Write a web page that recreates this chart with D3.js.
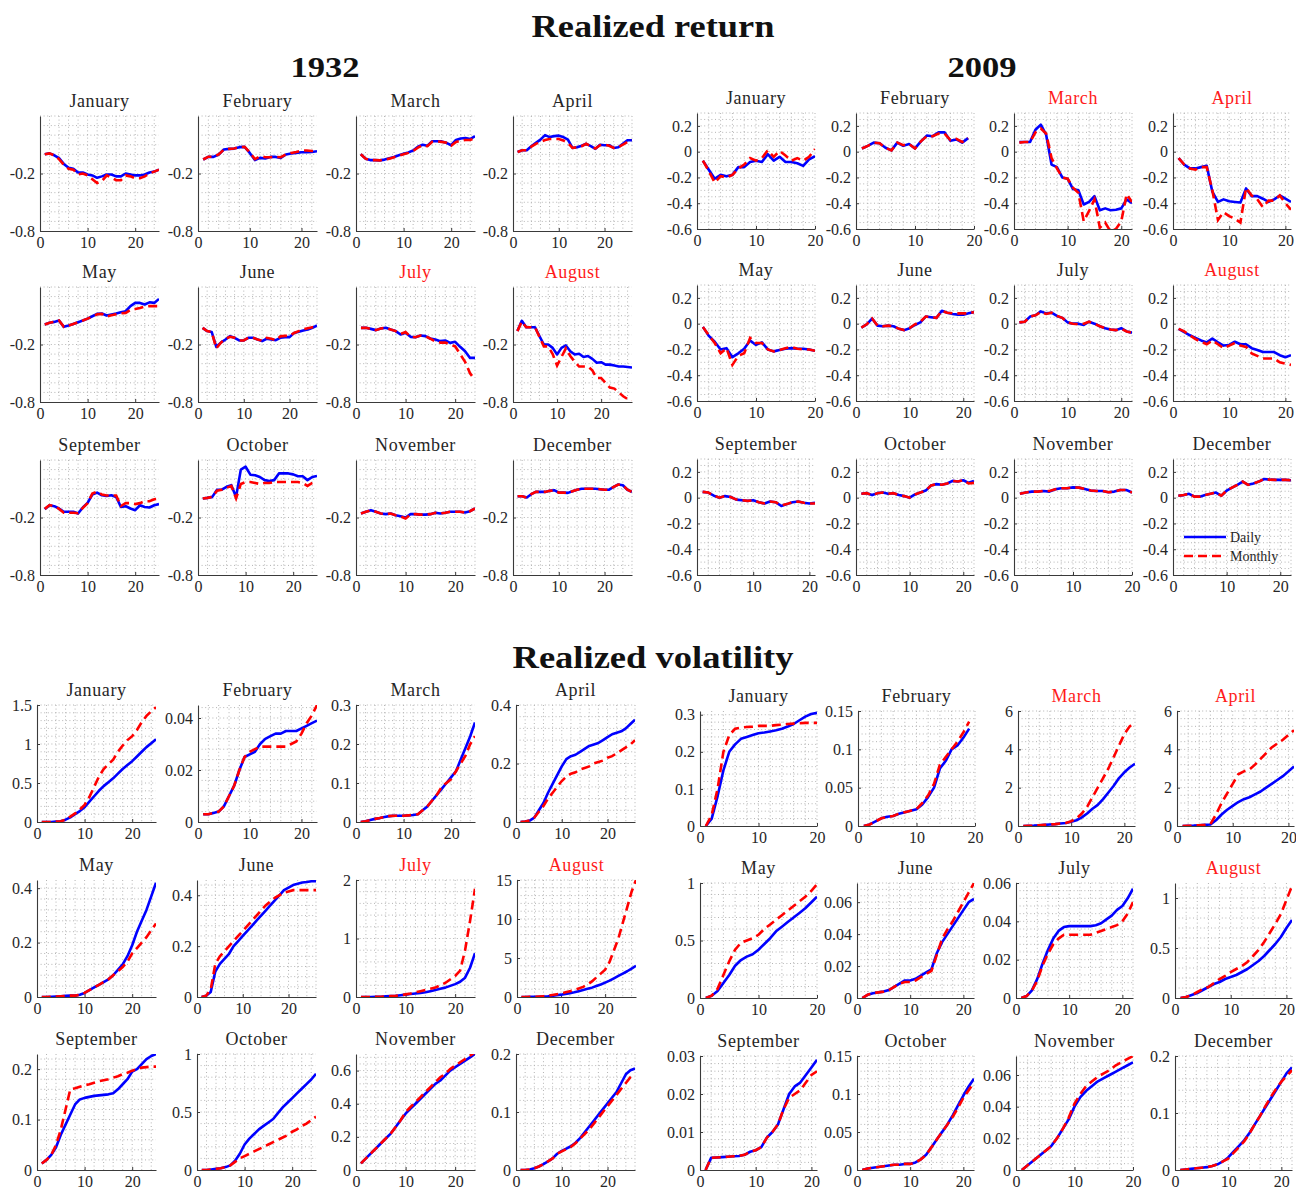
<!DOCTYPE html>
<html>
<head>
<meta charset="utf-8">
<script src="https://cdn.jsdelivr.net/npm/d3@7"></script>
<style>
  html, body { margin: 0; padding: 0; background: #fff; }
  svg text { font-family: "Liberation Serif", "Times New Roman", serif; fill: #262626; }
</style>
</head>
<body>
<script>
// ---------- data ----------
const months = ["January","February","March","April","May","June","July","August","September","October","November","December"];
const highlight1932 = ["July","August"];
const highlight2009 = ["March","April","August"];

// x-axis length (trading days) per month
const xMax1932 = [25, 23, 25, 26, 25, 26, 24, 27, 25, 25, 24, 26];
const xMax2009 = [20, 20, 22, 21, 20, 22, 22, 21, 21, 22, 20, 22];

// Realized return, 1932
const ret1932Daily = [
  [0.0,0.01,-0.01,-0.04,-0.10,-0.14,-0.15,-0.19,-0.19,-0.21,-0.22,-0.245,-0.23,-0.21,-0.21,-0.23,-0.23,-0.20,-0.21,-0.22,-0.22,-0.21,-0.19,-0.18,-0.16],
  [-0.054,-0.027,-0.027,-0.002,0.05,0.057,0.06,0.075,0.078,0.015,-0.06,-0.037,-0.044,-0.027,-0.027,-0.037,-0.002,0.008,0.015,0.022,0.022,0.025,0.032],
  [0.0,-0.045,-0.06,-0.06,-0.063,-0.055,-0.04,-0.027,-0.01,0.005,0.02,0.04,0.08,0.1,0.09,0.137,0.137,0.135,0.12,0.095,0.15,0.165,0.17,0.16,0.19],
  [0.025,0.043,0.043,0.085,0.12,0.154,0.2,0.18,0.19,0.195,0.18,0.154,0.067,0.074,0.09,0.11,0.085,0.057,0.1,0.095,0.095,0.067,0.074,0.11,0.147,0.147],
  [0.008,0.026,0.036,0.05,-0.016,-0.002,0.015,0.033,0.05,0.07,0.095,0.12,0.123,0.102,0.112,0.123,0.137,0.147,0.2,0.234,0.234,0.217,0.24,0.234,0.276],
  [-0.026,-0.06,-0.07,-0.224,-0.18,-0.148,-0.113,-0.13,-0.158,-0.158,-0.13,-0.13,-0.148,-0.165,-0.14,-0.148,-0.155,-0.13,-0.123,-0.123,-0.08,-0.068,-0.054,-0.044,-0.026,-0.002],
  [-0.026,-0.026,-0.037,-0.05,-0.033,-0.026,-0.044,-0.06,-0.096,-0.078,-0.12,-0.124,-0.106,-0.113,-0.137,-0.148,-0.165,-0.158,-0.183,-0.172,-0.224,-0.27,-0.34,-0.34],
  [-0.06,0.047,-0.02,-0.02,-0.02,-0.113,-0.2,-0.2,-0.235,-0.304,-0.235,-0.21,-0.27,-0.304,-0.297,-0.33,-0.32,-0.35,-0.39,-0.385,-0.41,-0.41,-0.42,-0.43,-0.43,-0.435,-0.44],
  [-0.113,-0.072,-0.082,-0.106,-0.14,-0.14,-0.14,-0.158,-0.096,-0.047,0.04,0.06,0.032,0.025,0.032,0.015,-0.09,-0.082,-0.106,-0.124,-0.072,-0.09,-0.096,-0.072,-0.06],
  [-0.002,0.005,0.015,0.09,0.09,0.12,0.137,0.015,0.3,0.33,0.247,0.24,0.223,0.19,0.18,0.19,0.26,0.26,0.26,0.25,0.23,0.23,0.19,0.223,0.234],
  [-0.158,-0.14,-0.124,-0.14,-0.158,-0.165,-0.158,-0.176,-0.186,-0.2,-0.165,-0.165,-0.17,-0.17,-0.165,-0.15,-0.158,-0.15,-0.14,-0.14,-0.14,-0.148,-0.134,-0.106],
  [0.022,0.022,0.008,0.043,0.067,0.067,0.067,0.078,0.085,0.06,0.06,0.057,0.074,0.09,0.1,0.1,0.1,0.1,0.095,0.09,0.09,0.12,0.144,0.137,0.09,0.067]
];
const ret1932Monthly = [
  [0.0,0.01,-0.01,-0.05,-0.11,-0.15,-0.16,-0.21,-0.2,-0.22,-0.26,-0.3,-0.28,-0.22,-0.24,-0.27,-0.27,-0.22,-0.23,-0.25,-0.25,-0.23,-0.2,-0.18,-0.16],
  [-0.054,-0.025,-0.025,0.0,0.05,0.057,0.06,0.075,0.078,0.02,-0.05,-0.02,-0.03,-0.03,-0.027,-0.03,0.0,0.015,0.025,0.04,0.04,0.035,0.032],
  [0.0,-0.045,-0.06,-0.06,-0.063,-0.055,-0.045,-0.03,-0.015,0.0,0.015,0.035,0.07,0.095,0.085,0.13,0.135,0.13,0.12,0.09,0.13,0.14,0.15,0.15,0.17],
  [0.025,0.043,0.043,0.08,0.11,0.13,0.15,0.16,0.16,0.16,0.145,0.12,0.067,0.074,0.085,0.11,0.085,0.06,0.095,0.1,0.09,0.067,0.074,0.1,0.13,0.147],
  [0.008,0.026,0.036,0.05,-0.016,-0.002,0.015,0.033,0.05,0.07,0.09,0.115,0.12,0.09,0.105,0.115,0.125,0.13,0.16,0.17,0.18,0.195,0.2,0.2,0.2],
  [-0.026,-0.06,-0.07,-0.24,-0.18,-0.14,-0.12,-0.13,-0.158,-0.158,-0.13,-0.13,-0.148,-0.16,-0.13,-0.14,-0.155,-0.115,-0.11,-0.11,-0.08,-0.06,-0.04,-0.03,-0.02,-0.01],
  [-0.026,-0.026,-0.037,-0.05,-0.033,-0.026,-0.044,-0.06,-0.09,-0.07,-0.12,-0.124,-0.106,-0.113,-0.14,-0.17,-0.18,-0.18,-0.2,-0.22,-0.3,-0.38,-0.5,-0.57],
  [-0.06,0.04,-0.02,-0.02,-0.02,-0.12,-0.22,-0.22,-0.3,-0.42,-0.33,-0.24,-0.32,-0.38,-0.43,-0.43,-0.43,-0.47,-0.55,-0.55,-0.6,-0.65,-0.66,-0.7,-0.74,-0.77,-0.78],
  [-0.11,-0.07,-0.082,-0.11,-0.15,-0.15,-0.15,-0.155,-0.1,-0.05,0.05,0.07,0.04,0.03,0.03,0.03,-0.08,-0.05,-0.05,-0.06,-0.05,-0.03,-0.03,-0.01,0.0],
  [-0.002,0.005,0.015,0.08,0.09,0.11,0.13,0.0,0.15,0.17,0.17,0.16,0.15,0.16,0.16,0.17,0.17,0.17,0.17,0.17,0.17,0.16,0.13,0.16,0.17],
  [-0.158,-0.14,-0.124,-0.14,-0.158,-0.165,-0.158,-0.176,-0.19,-0.21,-0.17,-0.165,-0.17,-0.17,-0.165,-0.15,-0.158,-0.15,-0.14,-0.14,-0.14,-0.148,-0.134,-0.106],
  [0.022,0.022,0.008,0.043,0.067,0.067,0.067,0.078,0.085,0.06,0.06,0.057,0.074,0.09,0.1,0.1,0.1,0.1,0.095,0.09,0.09,0.12,0.144,0.137,0.09,0.067]
];

// Realized return, 2009
const ret2009Daily = [
  [-0.07,-0.14,-0.21,-0.18,-0.19,-0.18,-0.12,-0.12,-0.08,-0.07,-0.08,-0.02,-0.07,-0.04,-0.08,-0.08,-0.09,-0.11,-0.06,-0.035],
  [0.025,0.045,0.07,0.065,0.03,0.01,0.07,0.045,0.06,0.025,0.08,0.125,0.12,0.15,0.15,0.085,0.095,0.07,0.105],
  [0.075,0.075,0.075,0.17,0.21,0.13,-0.1,-0.12,-0.2,-0.21,-0.29,-0.3,-0.41,-0.39,-0.345,-0.455,-0.44,-0.455,-0.45,-0.44,-0.37,-0.4],
  [-0.05,-0.1,-0.13,-0.13,-0.12,-0.11,-0.31,-0.39,-0.37,-0.385,-0.39,-0.395,-0.285,-0.345,-0.345,-0.365,-0.39,-0.37,-0.34,-0.365,-0.39],
  [-0.025,-0.095,-0.14,-0.2,-0.19,-0.26,-0.23,-0.195,-0.13,-0.165,-0.145,-0.2,-0.215,-0.205,-0.195,-0.19,-0.195,-0.195,-0.2,-0.21],
  [-0.03,-0.005,0.04,-0.015,-0.02,-0.015,-0.02,-0.04,-0.05,-0.035,-0.01,0.01,0.055,0.05,0.045,0.1,0.085,0.075,0.07,0.07,0.08,0.09],
  [0.01,0.015,0.055,0.065,0.095,0.08,0.085,0.06,0.045,0.01,0.0,0.0,-0.01,0.015,0.0,-0.02,-0.035,-0.045,-0.05,-0.035,-0.06,-0.07],
  [-0.04,-0.065,-0.09,-0.11,-0.13,-0.145,-0.115,-0.145,-0.17,-0.165,-0.14,-0.16,-0.16,-0.19,-0.205,-0.22,-0.22,-0.22,-0.245,-0.26,-0.245],
  [0.045,0.04,0.015,0.0,0.012,0.005,-0.015,-0.02,-0.025,-0.02,-0.035,-0.045,-0.03,-0.035,-0.065,-0.05,-0.035,-0.03,-0.04,-0.045,-0.04],
  [0.03,0.035,0.02,0.035,0.04,0.03,0.035,0.02,0.012,0.0,0.025,0.04,0.055,0.095,0.105,0.1,0.11,0.13,0.125,0.135,0.115,0.13],
  [0.03,0.04,0.047,0.047,0.052,0.047,0.065,0.073,0.073,0.08,0.078,0.068,0.055,0.052,0.052,0.042,0.047,0.06,0.06,0.04],
  [0.015,0.02,0.03,0.008,0.008,0.02,0.03,0.04,0.015,0.055,0.078,0.1,0.125,0.1,0.11,0.125,0.145,0.14,0.138,0.138,0.138,0.135]
];
const ret2009Monthly = [
  [-0.07,-0.15,-0.24,-0.19,-0.2,-0.18,-0.13,-0.1,-0.05,-0.07,-0.05,0.01,-0.04,0.005,-0.03,-0.07,-0.05,-0.07,-0.04,0.02],
  [0.025,0.045,0.07,0.065,0.03,0.01,0.07,0.05,0.06,0.025,0.08,0.12,0.12,0.14,0.14,0.09,0.1,0.075,0.105],
  [0.07,0.075,0.075,0.15,0.18,0.14,-0.05,-0.13,-0.2,-0.21,-0.28,-0.32,-0.54,-0.46,-0.37,-0.59,-0.55,-0.62,-0.6,-0.54,-0.33,-0.39],
  [-0.05,-0.1,-0.13,-0.14,-0.12,-0.12,-0.3,-0.53,-0.47,-0.5,-0.52,-0.55,-0.28,-0.34,-0.37,-0.43,-0.38,-0.38,-0.34,-0.4,-0.45],
  [-0.025,-0.09,-0.15,-0.23,-0.19,-0.32,-0.25,-0.23,-0.11,-0.15,-0.15,-0.2,-0.215,-0.205,-0.19,-0.18,-0.195,-0.2,-0.2,-0.21],
  [-0.03,-0.005,0.04,-0.015,-0.02,-0.015,-0.02,-0.04,-0.05,-0.035,-0.005,0.015,0.055,0.05,0.045,0.1,0.085,0.08,0.08,0.08,0.08,0.09],
  [0.01,0.015,0.055,0.065,0.09,0.075,0.085,0.06,0.045,0.01,0.0,-0.005,0.0,0.015,0.0,-0.02,-0.035,-0.045,-0.05,-0.04,-0.06,-0.07],
  [-0.04,-0.06,-0.09,-0.12,-0.14,-0.16,-0.13,-0.16,-0.19,-0.17,-0.15,-0.17,-0.18,-0.23,-0.25,-0.27,-0.27,-0.27,-0.3,-0.31,-0.32],
  [0.045,0.04,0.015,0.0,0.012,0.005,-0.015,-0.02,-0.025,-0.02,-0.035,-0.045,-0.03,-0.035,-0.06,-0.05,-0.035,-0.03,-0.04,-0.045,-0.045],
  [0.03,0.035,0.02,0.035,0.04,0.03,0.035,0.02,0.012,0.0,0.025,0.04,0.055,0.095,0.105,0.1,0.11,0.13,0.125,0.135,0.11,0.115],
  [0.03,0.04,0.047,0.047,0.052,0.052,0.065,0.073,0.073,0.08,0.078,0.068,0.055,0.052,0.052,0.042,0.047,0.06,0.06,0.04],
  [0.015,0.02,0.03,0.008,0.008,0.02,0.03,0.04,0.015,0.055,0.078,0.1,0.125,0.1,0.11,0.125,0.145,0.14,0.138,0.138,0.138,0.135]
];

// Realized volatility, 1932
const vol1932Daily = [
  [0,0,0,0.005,0.01,0.03,0.06,0.1,0.14,0.19,0.26,0.33,0.4,0.46,0.51,0.56,0.62,0.68,0.73,0.78,0.84,0.9,0.96,1.01,1.06],
  [0.003,0.003,0.0035,0.004,0.006,0.01,0.014,0.02,0.025,0.026,0.027,0.03,0.032,0.033,0.034,0.034,0.035,0.035,0.035,0.036,0.037,0.038,0.039],
  [0,0.002,0.005,0.008,0.01,0.013,0.015,0.016,0.016,0.016,0.017,0.018,0.02,0.03,0.04,0.055,0.07,0.085,0.1,0.115,0.13,0.16,0.19,0.22,0.255],
  [0,0.002,0.005,0.015,0.04,0.065,0.1,0.13,0.16,0.19,0.215,0.225,0.23,0.24,0.25,0.26,0.265,0.27,0.28,0.29,0.3,0.305,0.31,0.32,0.335,0.35],
  [0,0,0.001,0.002,0.003,0.004,0.005,0.005,0.008,0.015,0.025,0.035,0.045,0.055,0.065,0.08,0.1,0.12,0.15,0.19,0.24,0.28,0.32,0.37,0.42],
  [0,0.005,0.02,0.1,0.13,0.15,0.17,0.2,0.22,0.24,0.26,0.28,0.3,0.32,0.34,0.36,0.38,0.4,0.42,0.43,0.44,0.445,0.45,0.452,0.455,0.455],
  [0,0,0,0.002,0.005,0.01,0.015,0.02,0.03,0.04,0.05,0.06,0.07,0.08,0.1,0.12,0.14,0.16,0.19,0.22,0.26,0.33,0.5,0.75],
  [0,0,0.01,0.02,0.04,0.07,0.1,0.15,0.22,0.3,0.4,0.5,0.6,0.75,0.9,1.05,1.2,1.4,1.6,1.85,2.1,2.4,2.7,3.0,3.3,3.65,4.0],
  [0.013,0.02,0.03,0.045,0.07,0.09,0.11,0.13,0.14,0.143,0.145,0.147,0.148,0.149,0.15,0.152,0.16,0.17,0.18,0.195,0.2,0.21,0.22,0.226,0.23],
  [0,0,0.005,0.01,0.015,0.025,0.04,0.08,0.14,0.22,0.27,0.31,0.35,0.38,0.41,0.44,0.49,0.54,0.58,0.62,0.66,0.7,0.74,0.78,0.83],
  [0.04,0.07,0.1,0.13,0.16,0.19,0.22,0.26,0.3,0.34,0.37,0.4,0.43,0.46,0.49,0.52,0.54,0.57,0.6,0.62,0.64,0.66,0.68,0.7],
  [0,0,0.001,0.003,0.006,0.01,0.015,0.02,0.028,0.033,0.037,0.041,0.047,0.055,0.065,0.075,0.085,0.095,0.105,0.115,0.125,0.135,0.15,0.165,0.172,0.175]
];
const vol1932Monthly = [
  [0,0,0,0.005,0.01,0.03,0.07,0.11,0.16,0.22,0.32,0.45,0.58,0.68,0.74,0.8,0.9,0.98,1.05,1.1,1.18,1.28,1.36,1.42,1.47],
  [0.003,0.003,0.0035,0.004,0.006,0.01,0.014,0.02,0.025,0.027,0.028,0.029,0.029,0.029,0.029,0.029,0.029,0.03,0.031,0.034,0.038,0.041,0.045],
  [0,0.002,0.005,0.008,0.01,0.013,0.015,0.016,0.016,0.016,0.017,0.018,0.02,0.03,0.04,0.055,0.07,0.09,0.1,0.11,0.13,0.15,0.17,0.2,0.22],
  [0,0.002,0.005,0.015,0.035,0.055,0.08,0.1,0.12,0.14,0.155,0.165,0.17,0.18,0.185,0.19,0.2,0.205,0.21,0.22,0.225,0.235,0.245,0.255,0.265,0.28],
  [0,0,0.001,0.002,0.003,0.004,0.005,0.005,0.008,0.015,0.025,0.035,0.045,0.055,0.065,0.08,0.095,0.11,0.13,0.16,0.18,0.2,0.22,0.245,0.27],
  [0,0.005,0.03,0.13,0.16,0.18,0.2,0.22,0.24,0.26,0.28,0.3,0.32,0.34,0.36,0.375,0.39,0.4,0.41,0.415,0.42,0.42,0.42,0.42,0.42,0.42],
  [0,0,0,0.002,0.005,0.01,0.015,0.02,0.03,0.045,0.06,0.08,0.1,0.12,0.14,0.16,0.2,0.24,0.3,0.36,0.45,0.8,1.3,1.85],
  [0,0,0.01,0.03,0.06,0.1,0.15,0.25,0.35,0.45,0.6,0.75,0.9,1.1,1.3,1.6,2.0,2.5,3.0,3.5,4.5,6.0,7.5,9.5,11.5,13.5,15],
  [0.013,0.02,0.03,0.05,0.08,0.12,0.16,0.162,0.165,0.168,0.17,0.173,0.176,0.178,0.18,0.183,0.186,0.19,0.193,0.197,0.2,0.203,0.204,0.205,0.205],
  [0,0,0.005,0.01,0.015,0.025,0.04,0.07,0.1,0.12,0.14,0.16,0.18,0.2,0.22,0.24,0.26,0.28,0.3,0.33,0.35,0.38,0.4,0.43,0.46],
  [0.04,0.07,0.1,0.13,0.16,0.19,0.22,0.26,0.3,0.35,0.38,0.41,0.44,0.47,0.5,0.53,0.56,0.58,0.61,0.63,0.65,0.67,0.69,0.71],
  [0,0,0.001,0.003,0.006,0.01,0.015,0.02,0.028,0.032,0.036,0.04,0.046,0.054,0.062,0.07,0.08,0.09,0.1,0.11,0.12,0.13,0.14,0.15,0.16,0.165]
];

// Realized volatility, 2009
const vol2009Daily = [
  [0,0.02,0.08,0.15,0.2,0.22,0.235,0.24,0.245,0.25,0.252,0.255,0.258,0.262,0.268,0.275,0.285,0.295,0.302,0.305],
  [0,0.002,0.006,0.01,0.012,0.013,0.016,0.018,0.02,0.022,0.028,0.038,0.05,0.075,0.085,0.1,0.105,0.115,0.127],
  [0,0.01,0.02,0.04,0.06,0.08,0.1,0.13,0.16,0.22,0.3,0.45,0.65,0.9,1.1,1.4,1.75,2.1,2.5,2.8,3.05,3.25],
  [0,0.01,0.02,0.04,0.06,0.08,0.3,0.6,0.85,1.05,1.25,1.4,1.5,1.65,1.8,2.0,2.2,2.4,2.6,2.85,3.1],
  [0,0.02,0.06,0.13,0.2,0.28,0.33,0.36,0.38,0.42,0.47,0.52,0.58,0.62,0.66,0.7,0.74,0.78,0.83,0.88],
  [0,0.002,0.003,0.0035,0.004,0.005,0.007,0.009,0.011,0.011,0.012,0.014,0.016,0.018,0.028,0.035,0.04,0.045,0.05,0.055,0.06,0.062],
  [0,0.001,0.004,0.01,0.018,0.025,0.031,0.035,0.037,0.0375,0.0375,0.0375,0.0375,0.0375,0.038,0.039,0.041,0.043,0.046,0.048,0.052,0.057],
  [0,0.01,0.03,0.05,0.08,0.11,0.14,0.16,0.19,0.21,0.23,0.26,0.29,0.33,0.37,0.42,0.48,0.54,0.61,0.7,0.78],
  [0,0.0032,0.0033,0.0034,0.0035,0.0036,0.0037,0.004,0.0048,0.0052,0.006,0.0085,0.01,0.012,0.016,0.02,0.022,0.023,0.025,0.027,0.029],
  [0,0.002,0.003,0.004,0.005,0.006,0.007,0.007,0.008,0.008,0.01,0.014,0.02,0.03,0.04,0.05,0.06,0.072,0.085,0.098,0.11,0.12],
  [0,0.003,0.006,0.009,0.012,0.015,0.02,0.026,0.032,0.04,0.046,0.05,0.053,0.056,0.058,0.06,0.062,0.064,0.066,0.068],
  [0,0.001,0.002,0.003,0.004,0.005,0.007,0.01,0.015,0.022,0.032,0.042,0.052,0.065,0.08,0.095,0.11,0.125,0.14,0.155,0.17,0.18]
];
const vol2009Monthly = [
  [0,0.03,0.1,0.2,0.245,0.262,0.265,0.267,0.268,0.27,0.27,0.27,0.272,0.273,0.275,0.276,0.277,0.278,0.278,0.278],
  [0,0.002,0.006,0.01,0.012,0.013,0.016,0.018,0.02,0.022,0.03,0.04,0.055,0.08,0.09,0.1,0.11,0.122,0.136],
  [0,0.01,0.02,0.04,0.06,0.08,0.1,0.13,0.16,0.25,0.4,0.65,1.0,1.5,2.0,2.5,3.0,3.6,4.2,4.8,5.2,5.4],
  [0,0.01,0.02,0.04,0.06,0.1,0.6,1.2,1.7,2.2,2.7,2.85,2.95,3.2,3.5,3.8,4.1,4.3,4.5,4.75,5.0],
  [0,0.02,0.08,0.2,0.32,0.42,0.48,0.5,0.52,0.55,0.6,0.64,0.68,0.72,0.76,0.8,0.84,0.88,0.93,0.99],
  [0,0.002,0.003,0.0035,0.004,0.005,0.007,0.009,0.01,0.01,0.011,0.013,0.015,0.017,0.027,0.037,0.043,0.048,0.054,0.06,0.066,0.072],
  [0,0.001,0.004,0.009,0.017,0.023,0.028,0.031,0.033,0.033,0.033,0.033,0.033,0.033,0.034,0.035,0.036,0.037,0.038,0.04,0.044,0.05],
  [0,0.01,0.03,0.06,0.09,0.11,0.15,0.19,0.22,0.26,0.29,0.32,0.36,0.42,0.48,0.56,0.65,0.74,0.84,0.98,1.12],
  [0,0.0032,0.0033,0.0034,0.0035,0.0036,0.0037,0.004,0.0048,0.0052,0.006,0.0085,0.01,0.012,0.016,0.019,0.02,0.021,0.023,0.025,0.026],
  [0,0.002,0.003,0.004,0.005,0.006,0.007,0.007,0.008,0.008,0.01,0.014,0.02,0.03,0.04,0.05,0.06,0.07,0.082,0.095,0.105,0.115],
  [0,0.003,0.006,0.009,0.012,0.015,0.02,0.026,0.033,0.042,0.048,0.053,0.056,0.059,0.061,0.063,0.066,0.068,0.07,0.072],
  [0,0.001,0.002,0.003,0.004,0.005,0.007,0.01,0.015,0.02,0.03,0.04,0.05,0.064,0.08,0.095,0.112,0.128,0.142,0.155,0.165,0.175]
];

// y-axis top and tick step for each volatility panel
const volTop1932 = [1.5, 0.045, 0.3, 0.4, 0.43, 0.46, 2, 15, 0.23, 1, 0.7, 0.2];
const volStep1932 = [0.5, 0.02, 0.1, 0.2, 0.2, 0.2, 1, 5, 0.1, 0.5, 0.2, 0.1];
const volTop2009 = [0.31, 0.15, 6, 6, 1, 0.072, 0.06, 1.15, 0.03, 0.15, 0.072, 0.2];
const volStep2009 = [0.1, 0.05, 2, 2, 0.5, 0.02, 0.02, 0.5, 0.01, 0.05, 0.02, 0.1];

// ---------- drawing ----------
const W = 1296, H = 1190;
const SERIF = '"Liberation Serif", "Times New Roman", serif';
const svg = d3.select("body").append("svg").attr("width", W).attr("height", H);
const fmt = v => String(+v.toFixed(4));
let clipId = 0;

function panel(p) {
  const g = svg.append("g");
  const x = d3.scaleLinear().domain([0, p.xmax]).range([p.left, p.left + p.w]);
  const y = d3.scaleLinear().domain(p.ydom).range([p.top + p.h, p.top]);

  // dotted grid
  const grid = g.append("g").attr("stroke", "#b4b4b4").attr("stroke-width", 1)
    .attr("stroke-dasharray", "1,2.6");
  const xs = d3.range(p.xgrid, p.xmax + 1e-9, p.xgrid);
  grid.selectAll("line.vx").data(xs).join("line")
    .attr("x1", d => x(d)).attr("x2", d => x(d))
    .attr("y1", p.top).attr("y2", p.top + p.h);
  const ys = [];
  for (let v = p.ydom[0] + p.ygrid; v <= p.ydom[1] + 1e-9; v += p.ygrid) ys.push(v);
  grid.selectAll("line.hy").data(ys).join("line")
    .attr("x1", p.left).attr("x2", p.left + p.w)
    .attr("y1", d => y(d)).attr("y2", d => y(d));

  // axes
  const xAxis = d3.axisBottom(x).tickValues([0, 10, 20].filter(t => t <= p.xmax))
    .tickFormat(fmt).tickSizeInner(-3).tickSizeOuter(0).tickPadding(6);
  const yAxis = d3.axisLeft(y).tickValues(p.yticks)
    .tickFormat(fmt).tickSizeInner(-3).tickSizeOuter(0).tickPadding(5);
  const ax = g.append("g").attr("transform", `translate(0,${p.top + p.h})`).call(xAxis);
  const ay = g.append("g").attr("transform", `translate(${p.left},0)`).call(yAxis);
  [ax, ay].forEach(a => {
    a.attr("font-family", null).attr("font-size", null);
    a.select(".domain").attr("stroke", "#3a3a3a").attr("stroke-width", 1.1);
    a.selectAll(".tick line").attr("stroke", "#3a3a3a");
    a.selectAll("text").style("font-size", "16px").style("fill", "#262626")
      .style("font-family", SERIF);
  });
  ax.selectAll("text").attr("dy", "0.71em");

  // month title
  g.append("text").attr("x", p.left + p.w / 2).attr("y", p.top - 9)
    .attr("text-anchor", "middle").style("font-size", "18px").style("letter-spacing", "0.6px")
    .style("fill", p.red ? "#ff1a1a" : "#262626").text(p.title);

  // series
  const id = "clip" + (clipId++);
  g.append("clipPath").attr("id", id).append("rect")
    .attr("x", p.left).attr("y", p.top).attr("width", p.w).attr("height", p.h);
  const line = d3.line().x((d, i) => x(i + 1)).y(d => y(d));
  const lg = g.append("g").attr("clip-path", `url(#${id})`).attr("fill", "none");
  lg.append("path").datum(p.daily).attr("d", line)
    .attr("stroke", "#0000ff").attr("stroke-width", 2.6).attr("stroke-linejoin", "round");
  lg.append("path").datum(p.monthly).attr("d", line)
    .attr("stroke", "#ff0000").attr("stroke-width", 2.6).attr("stroke-dasharray", "9,5");
  return { x, y };
}

function heading(text, cx, by, size, len) {
  svg.append("text").attr("x", cx).attr("y", by).attr("text-anchor", "middle")
    .attr("textLength", len).attr("lengthAdjust", "spacingAndGlyphs")
    .style("font-size", size + "px").style("font-weight", "bold").style("fill", "#111").text(text);
}

heading("Realized return", 653, 37, 32, 243);
heading("1932", 325, 77, 30, 69);
heading("2009", 982, 77, 30, 69);
heading("Realized volatility", 653, 668, 32, 281);

// return panels
const retLeft1932 = [40, 198, 356, 513];
const retTop1932 = [116, 287, 460];
const retLeft2009 = [697, 856, 1014, 1173];
const retTop2009 = [113, 285, 459];

months.forEach((m, i) => {
  const r = Math.floor(i / 4), c = i % 4;
  panel({
    left: retLeft1932[c], top: retTop1932[r], w: 119, h: 115,
    xmax: xMax1932[i], ydom: [-0.8, 0.4], yticks: [-0.8, -0.2],
    xgrid: 2, ygrid: 0.1, title: m, red: highlight1932.includes(m),
    daily: ret1932Daily[i], monthly: ret1932Monthly[i]
  });
  panel({
    left: retLeft2009[c], top: retTop2009[r], w: 118, h: 116,
    xmax: xMax2009[i], ydom: [-0.6, 0.3], yticks: [-0.6, -0.4, -0.2, 0, 0.2],
    xgrid: 2, ygrid: 0.05, title: m, red: highlight2009.includes(m),
    daily: ret2009Daily[i], monthly: ret2009Monthly[i]
  });
});

// legend (December 2009 return panel)
const lgX = 1184, lgY = 537;
svg.append("line").attr("x1", lgX).attr("x2", lgX + 42).attr("y1", lgY).attr("y2", lgY)
  .attr("stroke", "#0000ff").attr("stroke-width", 2.6);
svg.append("line").attr("x1", lgX).attr("x2", lgX + 42).attr("y1", lgY + 19).attr("y2", lgY + 19)
  .attr("stroke", "#ff0000").attr("stroke-width", 2.6).attr("stroke-dasharray", "9,5");
svg.append("text").attr("x", lgX + 46).attr("y", lgY + 5).style("font-size", "14px").text("Daily");
svg.append("text").attr("x", lgX + 46).attr("y", lgY + 24).style("font-size", "14px").text("Monthly");

// volatility panels
const volLeft1932 = [[37, 198, 356, 516], [37, 197, 356, 517], [37, 197, 356, 516]];
const volTop1932pos = [705, 880, 1054];
const volLeft2009 = [[700, 858, 1018, 1177], [700, 857, 1016, 1175], [700, 857, 1016, 1175]];
const volTop2009pos = [711, 883, 1056];
const volH2009 = [115, 115, 114];

months.forEach((m, i) => {
  const r = Math.floor(i / 4), c = i % 4;
  const t1 = d3.range(0, volTop1932[i] + 1e-9, volStep1932[i]);
  panel({
    left: volLeft1932[r][c], top: volTop1932pos[r], w: 119, h: 117 - (r === 2 ? 1 : 0),
    xmax: xMax1932[i], ydom: [0, volTop1932[i]], yticks: t1,
    xgrid: 2, ygrid: volStep1932[i] / 5, title: m, red: highlight1932.includes(m),
    daily: vol1932Daily[i], monthly: vol1932Monthly[i]
  });
  const t2 = d3.range(0, volTop2009[i] + 1e-9, volStep2009[i]);
  panel({
    left: volLeft2009[r][c], top: volTop2009pos[r], w: 117, h: volH2009[r],
    xmax: xMax2009[i], ydom: [0, volTop2009[i]], yticks: t2,
    xgrid: 2, ygrid: volStep2009[i] / 5, title: m, red: highlight2009.includes(m),
    daily: vol2009Daily[i], monthly: vol2009Monthly[i]
  });
});
</script>
</body>
</html>
